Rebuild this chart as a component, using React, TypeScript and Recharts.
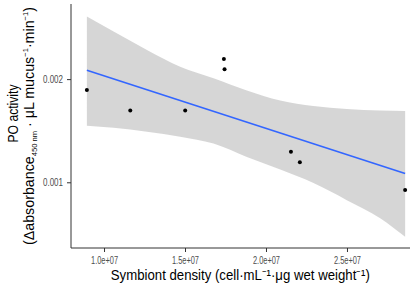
import React from "react";
import { ComposedChart, Area, Line, Scatter, XAxis, YAxis } from "recharts";

const xTicks = [1e7, 1.5e7, 2e7, 2.5e7];
const xTickLabels = ["1.0e+07", "1.5e+07", "2.0e+07", "2.5e+07"];
const yTicks = [0.001, 0.002];
const yTickLabels = ["0.001", "0.002"];

const pointX = [0.891e7, 1.159e7, 1.498e7, 1.737e7, 1.741e7, 2.151e7, 2.206e7, 2.856e7];
const pointY = [0.0019, 0.0017, 0.0017, 0.0022, 0.0021, 0.0013, 0.0012, 0.00093];

const fitX = [0.891e7, 2.856e7];
const fitY = [0.00209, 0.00109];

const bandX = [0.891e7, 1.056e7, 1.262e7, 1.467e7, 1.673e7, 1.879e7, 2.085e7, 2.29e7, 2.496e7, 2.702e7, 2.856e7];
const bandHigh = [0.002612, 0.002466, 0.002288, 0.002126, 0.002014, 0.001895, 0.001798, 0.001745, 0.001716, 0.001701, 0.001696];
const bandLow = [0.001553, 0.001534, 0.001495, 0.001447, 0.00138, 0.00125, 0.001128, 0.000997, 0.000832, 0.000657, 0.000476];

const bandData = bandX.map((x, i) => ({ x, band: [bandLow[i], bandHigh[i]] }));
const fitData = fitX.map((x, i) => ({ x, y: fitY[i] }));
const pointData = pointX.map((x, i) => ({ x, y: pointY[i] }));

const FONT = "'Liberation Sans', Arial, sans-serif";

const XTick = (props: any) => {
  const { x, y, payload } = props;
  const label = xTickLabels[xTicks.indexOf(payload.value)] ?? "";
  return (
    <text x={x} y={y} dy="0.71em" textAnchor="middle" fontFamily={FONT} fontSize={10} fill="#4d4d4d"
      textLength={27} lengthAdjust="spacingAndGlyphs">
      {label}
    </text>
  );
};

const YTick = (props: any) => {
  const { x, y, payload } = props;
  const label = yTickLabels[yTicks.indexOf(payload.value)] ?? "";
  return (
    <text x={x} y={y} dy="0.355em" textAnchor="end" fontFamily={FONT} fontSize={10} fill="#4d4d4d"
      textLength={20} lengthAdjust="spacingAndGlyphs">
      {label}
    </text>
  );
};

const XLabel = () => (
  <text x={240.3} y={280} textAnchor="middle" fontFamily={FONT} fontSize={14} fill="#000"
    textLength={259} lengthAdjust="spacingAndGlyphs">
    Symbiont density (cell·mL⁻¹·μg wet weight⁻¹)
  </text>
);

const YLabel = () => (
  <g fontFamily={FONT} fontSize={15} fill="#000">
    <text x={18} y={113.5} textAnchor="middle" transform="rotate(-90, 18, 113.5)"
      textLength={58} lengthAdjust="spacingAndGlyphs">PO activity</text>
    <text x={33.5} y={126} textAnchor="middle" transform="rotate(-90, 33.5, 126)"
      textLength={238} lengthAdjust="spacingAndGlyphs">
      <tspan>(Δabsorbance</tspan>
      <tspan fontSize={8} dy={3}>450 nm</tspan>
      <tspan dy={-3}> · μL mucus</tspan>
      <tspan fontSize={8} dy={-6}>−1</tspan>
      <tspan dy={6}>·min</tspan>
      <tspan fontSize={8} dy={-6}>−1</tspan>
      <tspan dy={6}>)</tspan>
    </text>
  </g>
);

export default function App() {
  return (
    <div style={{ position: "fixed", left: 0, top: 0, width: 410, height: 291, overflow: "hidden", background: "#fff" }}>
      <ComposedChart width={430} height={291} data={bandData} margin={{ top: 4, right: 9, bottom: 0, left: 0 }}>
        <XAxis
          dataKey="x"
          type="number"
          domain={[0.793e7, 2.954e7]}
          allowDataOverflow
          ticks={xTicks}
          height={43}
          tickSize={4}
          tickMargin={5}
          stroke="#333"
          tick={<XTick />}
          label={<XLabel />}
        />
        <YAxis
          dataKey="y"
          type="number"
          domain={[0.000368, 0.002733]}
          allowDataOverflow
          ticks={yTicks}
          width={71}
          tickSize={4}
          tickMargin={4}
          stroke="#333"
          tick={<YTick />}
          label={<YLabel />}
        />
        <Area
          dataKey="band"
          type="monotone"
          stroke="none"
          fill="#999999"
          fillOpacity={0.4}
          isAnimationActive={false}
        />
        <Line
          data={fitData}
          dataKey="y"
          type="linear"
          stroke="#3366FF"
          strokeWidth={1.6}
          dot={false}
          activeDot={false}
          isAnimationActive={false}
        />
        <Scatter
          data={pointData}
          dataKey="y"
          fill="#000"
          isAnimationActive={false}
          shape={(p: any) => <circle cx={p.cx} cy={p.cy} r={2} fill="#000" />}
        />
      </ComposedChart>
    </div>
  );
}
